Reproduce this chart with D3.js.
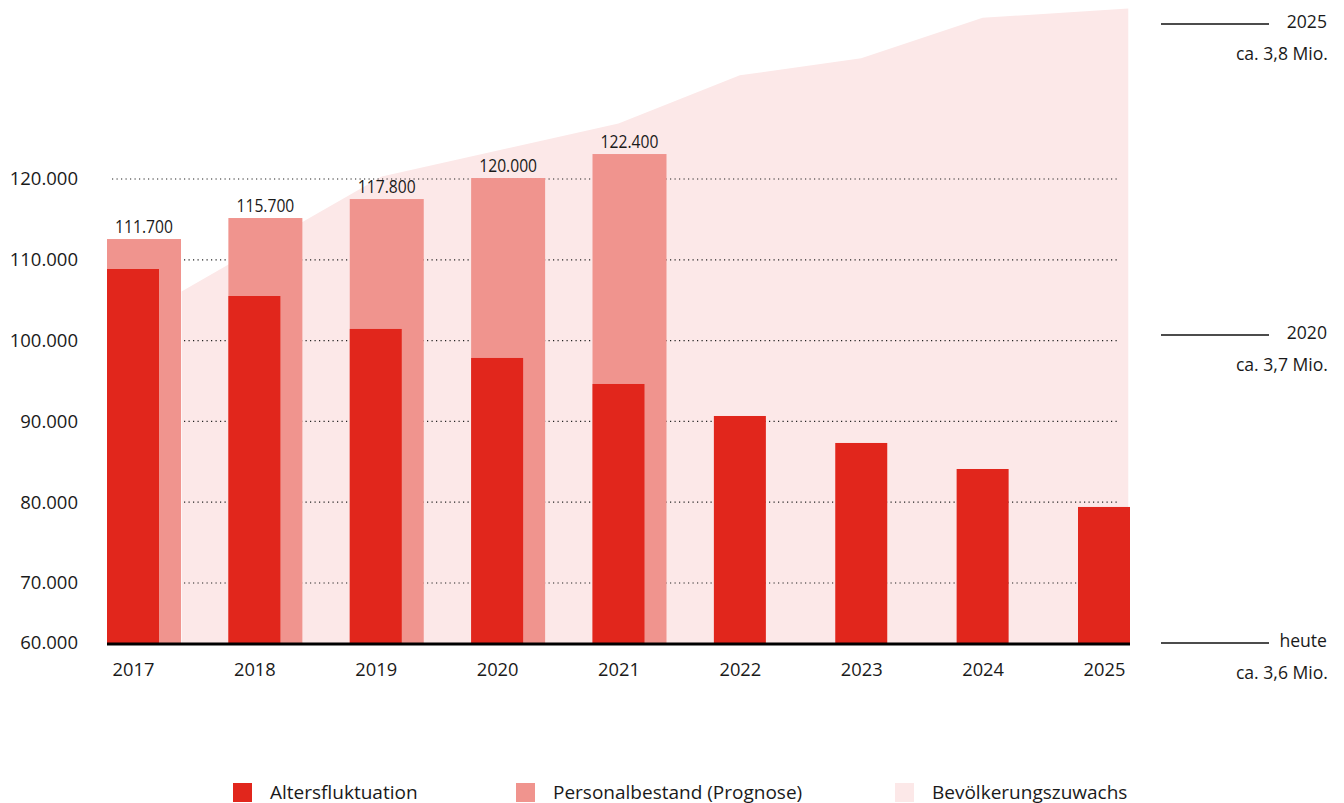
<!DOCTYPE html>
<html><head><meta charset="utf-8">
<script src="https://cdn.jsdelivr.net/npm/d3@7"></script>
<style>
html,body{margin:0;padding:0;background:#fff;}
svg text{font-family:"Open Sans","Noto Sans",sans-serif;fill:#1a1a1a;}
</style></head>
<body>
<svg id="c" width="1344" height="803"></svg>
<script>
const years = [2017,2018,2019,2020,2021,2022,2023,2024,2025];
const altersfluktuation = [108860,105520,101440,97850,94630,90670,87330,84110,79410];
const personalYears = [2017,2018,2019,2020,2021];
const personalbestand = [112570,115170,117520,120120,123090];
const personalLabels = ["111.700","115.700","117.800","120.000","122.400"];
const areaYears = [2017.4,2019.05,2021,2022,2023,2024,2025.2];
const bevoelkerung = [3.714,3.751,3.768,3.7835,3.789,3.802,3.805];
const yTicks = [60000,70000,80000,90000,100000,110000,120000];
const popMarks = [{v:3.8,a:"2025",b:"ca. 3,8 Mio."},{v:3.7,a:"2020",b:"ca. 3,7 Mio."},{v:3.6,a:"heute",b:"ca. 3,6 Mio."}];
const legendItems = ["Altersfluktuation","Personalbestand (Prognose)","Bevölkerungszuwachs"];
const colors = {dark:"#e1261c", light:"#f0948e", area:"#fce8e8"};

const svg = d3.select("#c");
// axis is shortened between 60.000 and 70.000
const y = d3.scaleLinear().domain([60000,70000,120000]).range([643,583,179]);
const yPop = d3.scaleLinear().domain([3.6,3.7,3.8]).range([643,335,24]);
const xLeft = d3.scalePoint().domain(years).range([107,1078]);
const xCenter = d3.scaleLinear().domain([2017,2025]).range([133,1104]);
const darkW = 52, lightW = 74;

// area
const area = d3.area().x((d,i)=>xCenter(areaYears[i])).y0(643).y1(d=>yPop(d)).curve(d3.curveLinear);
svg.append("path").datum(bevoelkerung).attr("d",area).attr("fill",colors.area);

// gridlines
svg.append("g").selectAll("line").data(yTicks.filter(t=>t>60000)).join("line")
  .attr("x1",112).attr("x2",1118).attr("y1",d=>y(d)).attr("y2",d=>y(d))
  .attr("stroke","#222").attr("stroke-width",1.2).attr("stroke-dasharray","1.2,3.3");

// light bars
svg.append("g").selectAll("rect").data(personalbestand).join("rect")
  .attr("x",(d,i)=>xLeft(personalYears[i])).attr("width",lightW)
  .attr("y",d=>y(d)).attr("height",d=>y(60000)-y(d)).attr("fill",colors.light);
svg.append("g").selectAll("text").data(personalbestand).join("text")
  .attr("transform",(d,i)=>`translate(${xLeft(personalYears[i])+lightW/2},${y(d)-6}) scale(0.86,1)`)
  .attr("text-anchor","middle").attr("font-size",18.2)
  .text((d,i)=>personalLabels[i]);

// dark bars
svg.append("g").selectAll("rect").data(altersfluktuation).join("rect")
  .attr("x",(d,i)=>xLeft(years[i])).attr("width",darkW)
  .attr("y",d=>y(d)).attr("height",d=>y(60000)-y(d)).attr("fill",colors.dark);

// baseline
svg.append("line").attr("x1",107).attr("x2",1130).attr("y1",y(60000)+1).attr("y2",y(60000)+1)
  .attr("stroke","#000").attr("stroke-width",3);

// y axis labels
const yAxis = d3.axisLeft(y).tickValues(yTicks).tickSize(0).tickPadding(0)
  .tickFormat(d=>d3.format(",")(d).replace(/,/g,"."));
const ya = svg.append("g").attr("transform","translate(78,0)").call(yAxis);
ya.select(".domain").remove();
ya.selectAll("text").attr("font-size",18.5).attr("fill","#1a1a1a").attr("font-family","Open Sans");

// x axis labels
const xAxis = d3.axisBottom(xCenter).tickValues(years).tickSize(0).tickPadding(0).tickFormat(d3.format("d"));
const xa = svg.append("g").attr("transform","translate(0,663)").call(xAxis);
xa.select(".domain").remove();
xa.selectAll("text").attr("font-size",18.3).attr("fill","#1a1a1a").attr("font-family","Open Sans");

// right annotations
const rg = svg.append("g").selectAll("g").data(popMarks).join("g");
rg.append("line").attr("x1",1161).attr("x2",1269).attr("y1",d=>yPop(d.v)).attr("y2",d=>yPop(d.v))
  .attr("stroke","#111").attr("stroke-width",1.3);
rg.append("text").attr("x",1327).attr("y",d=>yPop(d.v)+4).attr("text-anchor","end").attr("font-size",17.6).text(d=>d.a);
rg.append("text").attr("x",1328).attr("y",d=>yPop(d.v)+36).attr("text-anchor","end").attr("font-size",17.6).text(d=>d.b);

// legend
const legX = [233,516,895];
const lg = svg.append("g").selectAll("g").data(legendItems).join("g")
  .attr("transform",(d,i)=>`translate(${legX[i]},783)`);
lg.append("rect").attr("width",19).attr("height",19).attr("fill",(d,i)=>[colors.dark,colors.light,colors.area][i]);
lg.append("text").attr("x",37).attr("y",15.5).attr("font-size",19).text(d=>d);
</script>
</body></html>
